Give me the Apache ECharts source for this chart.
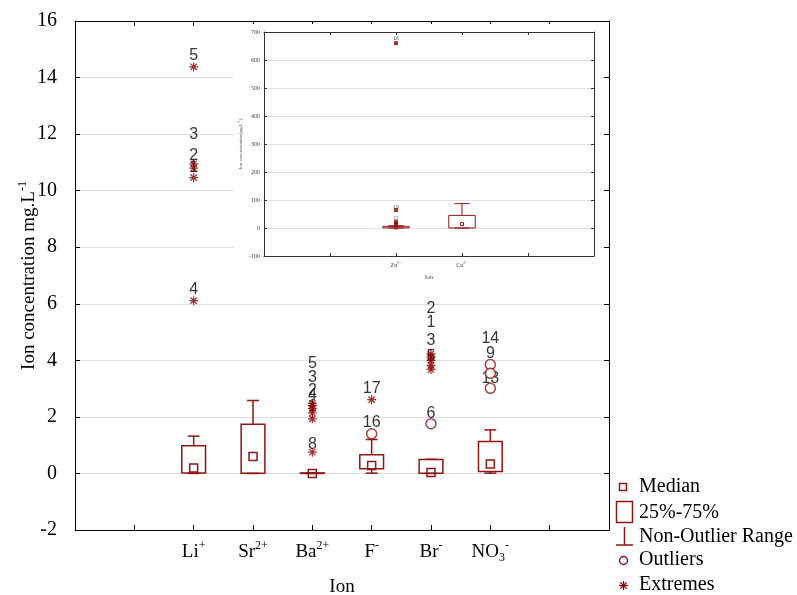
<!DOCTYPE html>
<html>
<head>
<meta charset="UTF-8">
<title>Ion concentration box plot</title>
<script src="https://cdn.jsdelivr.net/npm/echarts@6/dist/echarts.min.js"></script>
<style>
  html, body { margin: 0; padding: 0; background: #fff; }
  #chart { width: 797px; height: 595px; }
</style>
</head>
<body>
<div id="chart"></div>
<script>
// main plot: 6 ions placed on slots 2..7 of a 0..9 axis
const catPos = [2, 3, 4, 5, 6, 7];
const categoryLabels = ['{b|Li}{p|+}', '{b|Sr}{p|2+}', '{b|Ba}{p|2+}', '{b|F}{p|-}', '{b|Br}{p|-}', '{b|NO}{s|3}{p|-}'];
const boxMin    = [0.00, 0.00, 0.00, 0.01, 0.00, 0.01];
const boxQ1     = [0.02, 0.01, 0.00, 0.17, 0.01, 0.07];
const boxMedian = [0.19, 0.60, 0.00, 0.28, 0.03, 0.33];
const boxQ3     = [0.98, 1.74, 0.02, 0.66, 0.49, 1.13];
const boxMax    = [1.32, 2.58, 0.02, 1.20, 0.50, 1.54];
// [category index, value]
const outliers = [[3, 1.40], [4, 1.76], [5, 3.85], [5, 3.54], [5, 3.01]];
const extremes = [[0, 14.38], [0, 10.95], [0, 10.80], [0, 10.46], [0, 6.11],
  [2, 2.48], [2, 2.40], [2, 2.30], [2, 2.14], [2, 1.93], [2, 0.75],
  [3, 2.61],
  [4, 4.23], [4, 4.11], [4, 4.00], [4, 3.82], [4, 3.68]];
// case numbers: [category index, text y value, text]
const caseLabels = [[0, 14.77, '5'], [0, 11.98, '3'], [0, 11.24, '2'], [0, 10.82, '1'], [0, 6.50, '4'],
  [2, 3.88, '5'], [2, 3.38, '3'], [2, 2.93, '2'], [2, 2.76, '4'], [2, 2.35, '1'], [2, 1.02, '8'],
  [3, 3.01, '17'], [3, 1.81, '16'],
  [4, 5.82, '2'], [4, 5.33, '1'], [4, 4.70, '3'], [4, 4.13, '5'], [4, 2.12, '6'],
  [5, 4.78, '14'], [5, 4.23, '9'], [5, 3.35, '13']];
const yTicks = { min: -2, max: 16, step: 2 };

// inset: Zn and Cu
const insetPos = [2, 3];
const insetLabels = ['{b|Zn}{p|2+}', '{b|Cu}{p|2+}'];
const insetMin    = [0, 0];
const insetQ1     = [0.5, 0];
const insetMedian = [2, 14];
const insetQ3     = [6, 45];
const insetMax    = [8, 87];
const insetExtremes = [[0, 660], [0, 64], [0, 21], [0, 14]];
const insetCaseLabels = [[0, 675, '18'], [0, 74, '19'], [0, 35, '11']];
const insetTicks = { min: -100, max: 700, step: 100 };

const red = '#8e1616';
const starRed = '#8b0000';
const serif = 'Liberation Serif';
const sans = 'Liberation Sans';
const starPath = 'path://M4.3,0L5.7,0L5.7,10L4.3,10Z M0,4.3L10,4.3L10,5.7L0,5.7Z M1,2L2,1L9,8L8,9Z M8,1L9,2L2,9L1,8Z';

function boxRenderer(o) {
  return function (params, api) {
    const x = api.value(0);
    const pMin = api.coord([x, api.value(1)]);
    const pQ1 = api.coord([x, api.value(2)]);
    const pMed = api.coord([x, api.value(3)]);
    const pQ3 = api.coord([x, api.value(4)]);
    const pMax = api.coord([x, api.value(5)]);
    const bw = api.size([o.box, 0])[0];
    const cw = api.size([o.cap, 0])[0];
    const cx = pMed[0];
    const st = { stroke: red, fill: null, lineWidth: o.lw };
    return {
      type: 'group',
      children: [
        { type: 'line', shape: { x1: cx, y1: pQ3[1], x2: cx, y2: pMax[1] }, style: st },
        { type: 'line', shape: { x1: cx - cw / 2, y1: pMax[1], x2: cx + cw / 2, y2: pMax[1] }, style: st },
        { type: 'line', shape: { x1: cx, y1: pQ1[1], x2: cx, y2: pMin[1] }, style: st },
        { type: 'line', shape: { x1: cx - cw / 2, y1: pMin[1], x2: cx + cw / 2, y2: pMin[1] }, style: st },
        { type: 'rect', shape: { x: cx - bw / 2, y: pQ3[1], width: bw, height: Math.max(pQ1[1] - pQ3[1], 0.5) }, style: st },
        { type: 'rect', shape: { x: cx - o.med / 2, y: pMed[1] - o.med / 2, width: o.med, height: o.med }, style: st }
      ]
    };
  };
}

const mainBoxes = catPos.map((p, i) => [p, boxMin[i], boxQ1[i], boxMedian[i], boxQ3[i], boxMax[i]]);
const insetBoxes = insetPos.map((p, i) => [p, insetMin[i], insetQ1[i], insetMedian[i], insetQ3[i], insetMax[i]]);

const catRich = {
  b: { fontSize: 19, fontFamily: serif, color: '#000', lineHeight: 24 },
  p: { fontSize: 12, fontFamily: serif, color: '#000', lineHeight: 12, verticalAlign: 'top' },
  s: { fontSize: 12, fontFamily: serif, color: '#000', lineHeight: 12, verticalAlign: 'bottom' }
};
const insetRich = {
  b: { fontSize: 6, fontFamily: serif, color: '#444', lineHeight: 8 },
  p: { fontSize: 4, fontFamily: serif, color: '#444', lineHeight: 4, verticalAlign: 'top' }
};

const axisLine = { show: true, onZero: false, lineStyle: { color: '#000', width: 1 } };
const insetLine = { show: true, onZero: false, lineStyle: { color: '#333', width: 1 } };

// legend asterisk drawn from four short lines
const legStar = { cx: 623.5, cy: 585.5, r: 4.5 };
const starLines = [[0, 1], [1, 0], [0.7, 0.7], [0.7, -0.7]].map(d => ({
  type: 'line', z: 20,
  shape: { x1: legStar.cx - d[0] * legStar.r, y1: legStar.cy - d[1] * legStar.r, x2: legStar.cx + d[0] * legStar.r, y2: legStar.cy + d[1] * legStar.r },
  style: { stroke: starRed, lineWidth: 1.3 }
}));

const chart = echarts.init(document.getElementById('chart'));
chart.setOption({
  animation: false,
  grid: [
    { left: 75, top: 21, width: 534, height: 509, containLabel: false, outerBoundsMode: 'none' },
    { left: 264, top: 32, width: 330, height: 224, containLabel: false, outerBoundsMode: 'none' }
  ],
  xAxis: [
    {
      type: 'value', gridIndex: 0, min: 0, max: 9, interval: 1,
      axisLine, splitLine: { show: false },
      axisTick: { inside: true, length: 5, lineStyle: { color: '#000' } },
      axisLabel: {
        margin: 10,
        formatter: v => { const i = catPos.indexOf(v); return i >= 0 ? categoryLabels[i] : ''; },
        rich: catRich
      },
      name: 'Ion', nameLocation: 'middle', nameGap: 48, nameMoveOverlap: false,
      nameTextStyle: { fontSize: 19, fontFamily: serif, color: '#000' }
    },
    {
      type: 'value', gridIndex: 0, position: 'top', min: 0, max: 9, interval: 1,
      axisLine, splitLine: { show: false }, axisLabel: { show: false },
      axisTick: { inside: true, length: 5, lineStyle: { color: '#000' } }
    },
    {
      type: 'value', gridIndex: 1, min: 0, max: 5, interval: 1, z: 11,
      axisLine: insetLine, splitLine: { show: false },
      axisTick: { inside: true, length: 3, lineStyle: { color: '#333' } },
      axisLabel: {
        margin: 5,
        formatter: v => { const i = insetPos.indexOf(v); return i >= 0 ? insetLabels[i] : ''; },
        rich: insetRich
      },
      name: 'Ion', nameLocation: 'middle', nameGap: 18,
      nameTextStyle: { fontSize: 6, fontFamily: serif, color: '#444' }
    },
    {
      type: 'value', gridIndex: 1, position: 'top', min: 0, max: 5, interval: 1, z: 11,
      axisLine: insetLine, splitLine: { show: false }, axisLabel: { show: false },
      axisTick: { inside: true, length: 3, lineStyle: { color: '#333' } }
    }
  ],
  yAxis: [
    {
      type: 'value', gridIndex: 0, min: yTicks.min, max: yTicks.max, interval: yTicks.step,
      axisLine,
      axisTick: { inside: true, length: 5, lineStyle: { color: '#000' } },
      splitLine: { show: true, lineStyle: { color: '#dedede', width: 1 } },
      axisLabel: { margin: 18, fontSize: 20, fontFamily: serif, color: '#000' },
      name: 'Ion concentration mg.L{p|-1}', nameLocation: 'middle', nameGap: 34, nameMoveOverlap: false,
      nameTextStyle: {
        fontSize: 19, fontFamily: serif, color: '#000', lineHeight: 24,
        rich: { p: { fontSize: 12, fontFamily: serif, color: '#000', lineHeight: 12, verticalAlign: 'top' } }
      }
    },
    {
      type: 'value', gridIndex: 0, position: 'right', min: yTicks.min, max: yTicks.max, interval: yTicks.step,
      axisLine, splitLine: { show: false }, axisLabel: { show: false },
      axisTick: { inside: true, length: 5, lineStyle: { color: '#000' } }
    },
    {
      type: 'value', gridIndex: 1, min: insetTicks.min, max: insetTicks.max, interval: insetTicks.step, z: 11,
      axisLine: insetLine,
      axisTick: { inside: true, length: 3, lineStyle: { color: '#333' } },
      splitLine: { show: true, lineStyle: { color: '#e2e2e2', width: 1 } },
      axisLabel: { margin: 4, fontSize: 6, fontFamily: serif, color: '#444' },
      name: 'Ion concentration(\u00b5g.L{p|-1})', nameLocation: 'middle', nameGap: 20,
      nameTextStyle: {
        fontSize: 5, fontFamily: serif, color: '#444', lineHeight: 7,
        rich: { p: { fontSize: 3.5, fontFamily: serif, color: '#444', lineHeight: 3, verticalAlign: 'top' } }
      }
    },
    {
      type: 'value', gridIndex: 1, position: 'right', min: insetTicks.min, max: insetTicks.max, interval: insetTicks.step, z: 11,
      axisLine: insetLine, splitLine: { show: false }, axisLabel: { show: false },
      axisTick: { inside: true, length: 3, lineStyle: { color: '#333' } }
    }
  ],
  graphic: [
    // white backing for the inset
    { type: 'rect', z: 10, shape: { x: 234, y: 24, width: 366, height: 262 }, style: { fill: '#fff' } },
    // legend
    { type: 'rect', z: 20, shape: { x: 619.5, y: 483.5, width: 7, height: 7 }, style: { fill: null, stroke: red, lineWidth: 1.5 } },
    { type: 'rect', z: 20, shape: { x: 616.5, y: 501.5, width: 16, height: 21 }, style: { fill: null, stroke: red, lineWidth: 1.5 } },
    { type: 'line', z: 20, shape: { x1: 624.5, y1: 527, x2: 624.5, y2: 545 }, style: { stroke: red, lineWidth: 1.5 } },
    { type: 'line', z: 20, shape: { x1: 616, y1: 545, x2: 633, y2: 545 }, style: { stroke: red, lineWidth: 1.5 } },
    { type: 'circle', z: 20, shape: { cx: 623.5, cy: 560.5, r: 4 }, style: { fill: null, stroke: red, lineWidth: 1.5 } },
    ...starLines,
    ...['Median', '25%-75%', 'Non-Outlier Range', 'Outliers', 'Extremes'].map((t, i) => ({
      type: 'text', z: 20, x: 639, y: [487, 513, 537, 560, 585][i],
      style: { text: t, fill: '#000', font: '20px "Liberation Serif"', verticalAlign: 'middle' }
    }))
  ],
  series: [
    {
      type: 'custom', xAxisIndex: 0, yAxisIndex: 0, z: 3,
      renderItem: boxRenderer({ box: 0.4, cap: 0.2, med: 8, lw: 1.5 }),
      encode: { x: 0, y: [1, 2, 3, 4, 5] },
      data: mainBoxes
    },
    {
      type: 'scatter', xAxisIndex: 0, yAxisIndex: 0, z: 2,
      symbolSize: 0, silent: true,
      label: { show: true, position: 'inside', formatter: p => p.data[2], fontSize: 16, fontFamily: sans, color: '#000' },
      data: caseLabels.map(d => [catPos[d[0]], d[1], d[2]])
    },
    {
      type: 'scatter', xAxisIndex: 0, yAxisIndex: 0, z: 4,
      symbol: 'circle', symbolSize: 10,
      itemStyle: { color: '#fff', borderColor: red, borderWidth: 1.5 },
      data: outliers.map(d => [catPos[d[0]], d[1]])
    },
    {
      type: 'scatter', xAxisIndex: 0, yAxisIndex: 0, z: 4,
      symbol: starPath, symbolSize: 9,
      itemStyle: { color: starRed },
      data: extremes.map(d => [catPos[d[0]], d[1]])
    },
    {
      type: 'custom', xAxisIndex: 2, yAxisIndex: 2, z: 12,
      renderItem: boxRenderer({ box: 0.4, cap: 0.23, med: 3, lw: 1 }),
      encode: { x: 0, y: [1, 2, 3, 4, 5] },
      data: insetBoxes
    },
    {
      type: 'scatter', xAxisIndex: 2, yAxisIndex: 2, z: 12,
      symbolSize: 0, silent: true,
      label: { show: true, position: 'inside', formatter: p => p.data[2], fontSize: 5, fontFamily: sans, color: '#444' },
      data: insetCaseLabels.map(d => [insetPos[d[0]], d[1], d[2]])
    },
    {
      type: 'scatter', xAxisIndex: 2, yAxisIndex: 2, z: 13,
      symbol: 'rect', symbolSize: 4,
      itemStyle: { color: starRed },
      data: insetExtremes.map(d => [insetPos[d[0]], d[1]])
    }
  ]
});
</script>
</body>
</html>
